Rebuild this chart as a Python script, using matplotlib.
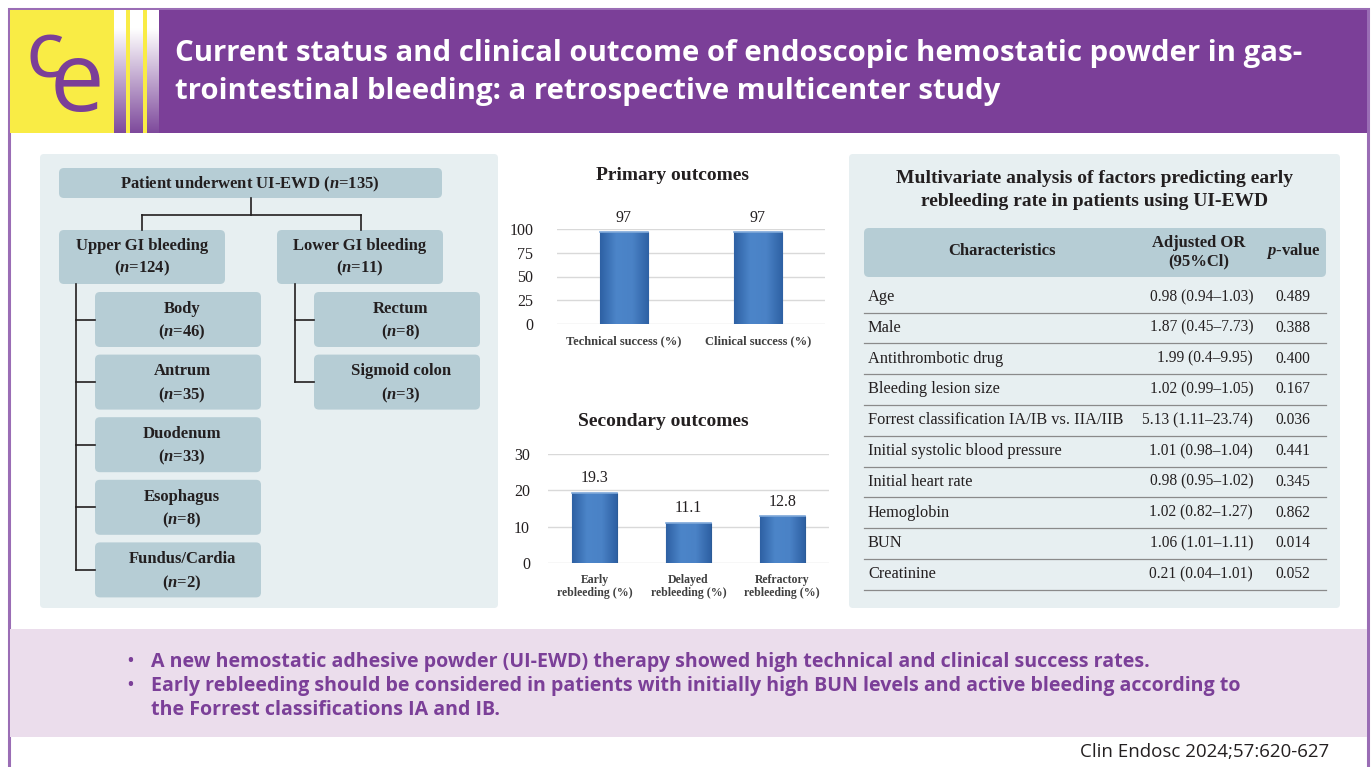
import matplotlib.pyplot as plt
import numpy as np
from matplotlib import font_manager as fm
from matplotlib.patches import Rectangle, FancyBboxPatch
from matplotlib.colors import LinearSegmentedColormap

# ---- data ----
title_lines = ["Current status and clinical outcome of endoscopic hemostatic powder in gas-",
               "trointestinal bleeding: a retrospective multicenter study"]
total_n = 135
upper_n, lower_n = 124, 11
upper_sites = ["Body", "Antrum", "Duodenum", "Esophagus", "Fundus/Cardia"]
upper_counts = [46, 35, 33, 8, 2]
lower_sites = ["Rectum", "Sigmoid colon"]
lower_counts = [8, 3]

primary_labels = ["Technical success (%)", "Clinical success (%)"]
primary_values = [97, 97]
secondary_labels = ["Early\nrebleeding (%)", "Delayed\nrebleeding (%)", "Refractory\nrebleeding (%)"]
secondary_values = [19.3, 11.1, 12.8]

characteristics = ["Age", "Male", "Antithrombotic drug", "Bleeding lesion size",
                   "Forrest classification IA/IB vs. IIA/IIB", "Initial systolic blood pressure",
                   "Initial heart rate", "Hemoglobin", "BUN", "Creatinine"]
adjusted_or = ["0.98 (0.94\u20131.03)", "1.87 (0.45\u20137.73)", "1.99 (0.4\u20139.95)",
               "1.02 (0.99\u20131.05)", "5.13 (1.11\u201323.74)", "1.01 (0.98\u20131.04)",
               "0.98 (0.95\u20131.02)", "1.02 (0.82\u20131.27)", "1.06 (1.01\u20131.11)",
               "0.21 (0.04\u20131.01)"]
p_values = ["0.489", "0.388", "0.400", "0.167", "0.036", "0.441", "0.345", "0.862", "0.014", "0.052"]

bullets = ["A new hemostatic adhesive powder (UI-EWD) therapy showed high technical and clinical success rates.",
           "Early rebleeding should be considered in patients with initially high BUN levels and active bleeding according to\nthe Forrest classifications IA and IB."]
citation = "Clin Endosc 2024;57:620-627"

# ---- fonts: pick a sans family that really has a bold face ----
def weights_of(name):
    out = []
    for f in fm.fontManager.ttflist:
        if f.name == name:
            w = f.weight
            if isinstance(w, str):
                w = fm.weight_dict.get(w, 400)
            out.append(w)
    return out

SANS = 'DejaVu Sans'
for cand in ['Noto Sans', 'Open Sans', 'Roboto', 'Lato']:
    if any(w >= 600 for w in weights_of(cand)):
        SANS = cand
        break

# ---- style ----
PURPLE = '#7B3F98'
YELLOW = '#F9EC45'
BOXC = '#B6CDD5'
PANEL = '#E7EFF1'
INK = '#231F20'
SERIF = 'Liberation Serif'

plt.rcParams['mathtext.fontset'] = 'custom'
plt.rcParams['mathtext.it'] = 'Liberation Serif:italic:bold'
plt.rcParams['mathtext.rm'] = 'Liberation Serif:bold'

W, H = 1372, 767
fig = plt.figure(figsize=(W / 100, H / 100), dpi=100)
ax = fig.add_axes([0, 0, 1, 1])


def rbox(x0, y0, x1, y1, color, r=5):
    ax.add_patch(FancyBboxPatch((x0, y0), x1 - x0, y1 - y0,
                                boxstyle=f"round,pad=0,rounding_size={r}",
                                fc=color, ec='none', zorder=2))


def line(xs, ys):
    ax.plot(xs, ys, color=INK, lw=1.2, zorder=2.5, solid_capstyle='projecting')


# outer frame
ax.add_patch(Rectangle((8.5, 9), 1359, 770, fc='white', ec='#9A6DB5', lw=2.2, zorder=0))

# header
ax.add_patch(Rectangle((10, 10), 104, 123, fc=YELLOW, ec='none', zorder=1))
ax.add_patch(Rectangle((159, 10), 1208, 123, fc=PURPLE, ec='none', zorder=1))
grad = np.linspace(0, 1, 200)[:, None]
cm = LinearSegmentedColormap.from_list('g', [(0, 'white'), (0.15, 'white'), (1, '#7E4A9C')])
for gx0, gx1 in [(114, 126), (130, 143), (147, 159)]:
    ax.imshow(grad, cmap=cm, extent=(gx0, gx1, 133, 10), aspect='auto', zorder=1)
for yx0, yx1 in [(126, 130), (143, 147)]:
    ax.add_patch(Rectangle((yx0, 10), yx1 - yx0, 123, fc=YELLOW, ec='none', zorder=1))
ax.set_xlim(0, W)
ax.set_ylim(H, 0)
ax.axis('off')
ax.text(27, 78, "C", fontsize=42, color=PURPLE, family=SANS, weight=600,
        ha='left', va='baseline', zorder=3)
ax.text(50, 111, "e", fontsize=70, color=PURPLE, family=SANS,
        ha='left', va='baseline', zorder=3)
for i, t in enumerate(title_lines):
    ax.text(175, 53 + i * 39, t, fontsize=21.2, color='white', weight='bold', family=SANS,
            ha='left', va='center', zorder=3)

# panels
rbox(40, 154, 498, 608, PANEL, r=4)
rbox(849, 154, 1340, 608, PANEL, r=4)
ax.add_patch(Rectangle((10, 629), 1357, 108, fc='#EBDDEC', ec='none', zorder=1))

# ---- flowchart ----
fs = 12
rbox(59, 168, 442, 198, BOXC)
ax.text(250, 184, f"Patient underwent UI-EWD ($n$={total_n})",
        fontsize=fs, weight='bold', family=SERIF, color=INK, ha='center', va='center', zorder=3)
line([251, 251], [198, 215])
line([142, 361], [215, 215])
line([142, 142], [215, 230])
line([361, 361], [215, 230])
rbox(59, 230, 225, 284, BOXC)
rbox(277, 230, 443, 284, BOXC)
ax.text(142, 258, f"Upper GI bleeding\n($n$={upper_n})", fontsize=fs, weight='bold', family=SERIF,
        color=INK, ha='center', va='center', linespacing=1.4, zorder=3)
ax.text(360, 258, f"Lower GI bleeding\n($n$={lower_n})", fontsize=fs, weight='bold', family=SERIF,
        color=INK, ha='center', va='center', linespacing=1.4, zorder=3)

step = 62.6
for col_x0, vx, sites, counts in [(95, 76, upper_sites, upper_counts),
                                  (314, 295, lower_sites, lower_counts)]:
    mids = []
    for k, (s, c) in enumerate(zip(sites, counts)):
        y0 = 292 + k * step
        rbox(col_x0, y0, col_x0 + 166, y0 + 55, BOXC)
        ax.text(col_x0 + 87, y0 + 29.5, f"{s}\n($n$={c})", fontsize=fs, weight='bold', family=SERIF,
                color=INK, ha='center', va='center', linespacing=1.45, zorder=3)
        mids.append(y0 + 27.5)
        line([vx, col_x0], [y0 + 27.5, y0 + 27.5])
    line([vx, vx], [284, mids[-1]])

# ---- table ----
ax.text(1095, 190, "Multivariate analysis of factors predicting early\nrebleeding rate in patients using UI-EWD",
        fontsize=14, weight='bold', family=SERIF, color=INK, ha='center', va='center',
        linespacing=1.42, zorder=3)
rbox(864, 228, 1326, 277, BOXC)
ax.text(1002, 251, "Characteristics", fontsize=12, weight='bold', family=SERIF, color=INK,
        ha='center', va='center', zorder=3)
ax.text(1199, 252, "Adjusted OR\n(95%Cl)", fontsize=12, weight='bold', family=SERIF, color=INK,
        ha='center', va='center', linespacing=1.15, zorder=3)
ax.text(1293, 251, "$p$-value", fontsize=12, weight='bold', family=SERIF, color=INK,
        ha='center', va='center', zorder=3)
row_h = 30.8
for i, (c, o, p) in enumerate(zip(characteristics, adjusted_or, p_values)):
    yc = 297 + i * row_h
    ax.text(868, yc, c, fontsize=11.8, family=SERIF, color=INK, ha='left', va='center', zorder=3)
    ax.text(1253, yc, o, fontsize=11.2, family=SERIF, color=INK, ha='right', va='center', zorder=3)
    ax.text(1293, yc, p, fontsize=11.2, family=SERIF, color=INK, ha='center', va='center', zorder=3)
    ax.plot([864, 1326], [yc + 15.5, yc + 15.5], color='#8A8A8A', lw=0.9, zorder=2)

# ---- bullets ----
for yb, txt in [(661, bullets[0]), (685, bullets[1])]:
    ax.text(130, yb, "\u2022", fontsize=15, color=PURPLE, family=SANS,
            ha='center', va='center', zorder=3)
    ax.text(151, yb - 8.5, txt, fontsize=14.1, color=PURPLE, weight='bold', family=SANS,
            ha='left', va='top', linespacing=1.22, zorder=3)

ax.text(1329, 752, citation, fontsize=13.5, color=INK, family=SANS, ha='right', va='center')

# ---- bar charts ----
bar_cm = LinearSegmentedColormap.from_list('b', ['#2E61A4', '#4C85C9', '#4A82C6', '#2E61A4'])
hgrad = np.linspace(0, 1, 64)[None, :]


def bar_chart(left, top, right, bottom, labels, values, ymax, ystep, width, title, title_x, title_y,
              pad, xfs):
    bx = fig.add_axes([left / W, 1 - bottom / H, (right - left) / W, (bottom - top) / H])
    bx.set_facecolor('none')
    xs = np.arange(len(values))
    bars = bx.bar(xs, values, width=width, color='#4279BD', edgecolor='#2B5B97', lw=0.8, zorder=3)
    for b in bars:
        im = bx.imshow(hgrad, cmap=bar_cm, aspect='auto', zorder=3.5,
                       extent=(b.get_x(), b.get_x() + b.get_width(), 0, b.get_height()))
        im.set_clip_path(b)
        bx.plot([b.get_x(), b.get_x() + b.get_width()], [b.get_height()] * 2,
                color='#7FA9DA', lw=1.2, zorder=4)
    for xv, v in zip(xs, values):
        bx.text(xv, v + ymax * 0.06, f"{v:g}", ha='center', va='bottom', fontsize=11.5,
                family=SERIF, color=INK, clip_on=False)
    bx.set_xlim(-0.5, len(values) - 0.5)
    bx.set_ylim(0, ymax)
    bx.set_yticks(np.arange(0, ymax + 1, ystep))
    bx.grid(axis='y', color='#D9D9D9', lw=1, zorder=0)
    for s in bx.spines.values():
        s.set_visible(False)
    bx.tick_params(length=0, axis='y', labelsize=11.5, pad=pad)
    bx.tick_params(length=0, axis='x', pad=8)
    bx.set_xticks(xs)
    bx.set_xticklabels(labels, fontsize=xfs, weight='bold', color='#404040', family=SERIF,
                       linespacing=1.1)
    for t in bx.get_yticklabels():
        t.set_family(SERIF)
        t.set_color(INK)
    ax.text(title_x, title_y, title, fontsize=14, weight='bold', family=SERIF,
            color=INK, ha='center', va='center')
    return bx


bar_chart(557, 229, 825, 324, primary_labels, primary_values, 100, 25, 0.36,
          "Primary outcomes", 672, 176, 17, 9)
bar_chart(548, 454, 829, 563, secondary_labels, secondary_values, 30, 10, 0.48,
          "Secondary outcomes", 663, 422, 13, 8.5)

fig.savefig("out.png", dpi=100)
